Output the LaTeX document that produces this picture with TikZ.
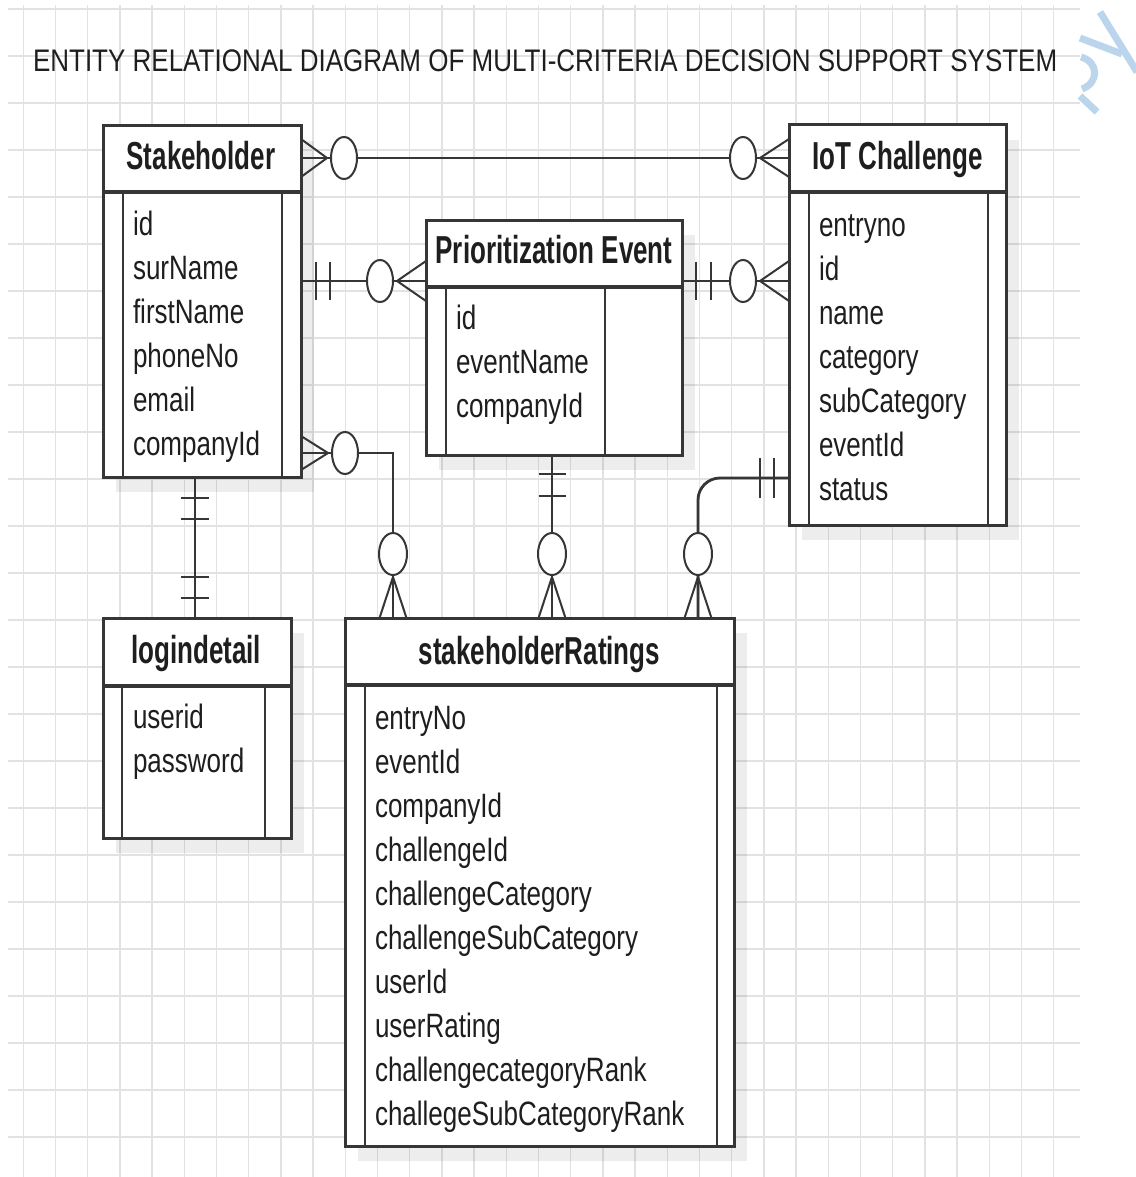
\documentclass[tikz,border=0pt]{standalone}
\usepackage{fontspec}
\setmainfont{Liberation Sans}
\usepackage{graphicx}
\usetikzlibrary{calc}

\definecolor{ink}{HTML}{363636}
\definecolor{txt}{HTML}{1E1E1E}
\definecolor{gridc}{HTML}{E2E2E2}
\definecolor{wmark}{HTML}{BBD5EC}

% attribute list: one column, tall glyphs
\newcommand{\attrs}[1]{\scalebox{1}[1.3]{\fontsize{26}{33.85}\selectfont\begin{tabular}[t]{@{}l@{}}#1\end{tabular}}}
% entity name in the header band
\newcommand{\hdr}[1]{\scalebox{1}[1.5]{\fontsize{26}{30}\selectfont\bfseries #1}}

\tikzset{
  entity/.style={draw=ink, line width=3pt, fill=white, inner sep=0pt, outer sep=0pt,
    preaction={fill=black, fill opacity=0.07, draw=none,
      transform canvas={xshift=13pt, yshift=-15pt}}},
  divider/.style={draw=ink, line width=4pt},
  colline/.style={draw=ink, line width=2pt},
  lbl/.style={inner sep=0pt, outer sep=0pt, text=txt},
  rel/.style={draw=ink, line width=2.8pt},
  foot/.style={draw=ink, line width=2pt},
  tick/.style={draw=ink, line width=2.5pt},
  ring/.style={draw=ink, line width=2pt, fill=white},
  gridline/.style={draw=gridc, line width=1.3pt},
  stroke/.style={draw=wmark, line width=7pt},
}

\begin{document}
\begin{tikzpicture}[x=1pt, y=-1pt]
\useasboundingbox (0,0) rectangle (1135,1177);
\fill[white] (0,0) rectangle (1135,1177);

% background grid
\foreach \k in {0,...,32} \draw[gridline] ({23.3+32.2*\k},5) -- ({23.3+32.2*\k},1177);
\foreach \k in {0,...,24} \draw[gridline] (8,{9+47*\k}) -- (1080,{9+47*\k});

% corner mark
\draw[stroke] (1100,12) -- (1137,72);
\draw[stroke] (1080,38) -- (1122,54);
\draw[stroke] (1081,57) .. controls (1099,62) and (1099,83) .. (1082,89);
\draw[stroke] (1080,96) -- (1097,112);

% title
\node[lbl, anchor=base west] (title) at (33,71.7)
  {\scalebox{1}[1.2]{\fontsize{26}{30}\selectfont ENTITY RELATIONAL DIAGRAM OF MULTI-CRITERIA DECISION SUPPORT SYSTEM}};

% ---------- entities ----------
\node[entity, minimum width=198pt, minimum height=351pt] (sh) at (202,301.5) {};
\node[entity, minimum width=256pt, minimum height=235pt] (pe) at (554,337.5) {};
\node[entity, minimum width=217pt, minimum height=400pt] (iot) at (897.5,325) {};
\node[entity, minimum width=188pt, minimum height=220pt] (login) at (197,728) {};
\node[entity, minimum width=389pt, minimum height=528pt] (sr) at (539.5,882) {};

% header bands and side columns
\draw[divider] ($(sh.north west)+(0,66)$) -- ($(sh.north east)+(0,66)$);
\draw[colline] ($(sh.north west)+(20,66)$) -- ($(sh.south west)+(20,0)$);
\draw[colline] ($(sh.north east)+(-19,66)$) -- ($(sh.south east)+(-19,0)$);

\draw[divider] ($(pe.north west)+(0,67)$) -- ($(pe.north east)+(0,67)$);
\draw[colline] ($(pe.north west)+(20,67)$) -- ($(pe.south west)+(20,0)$);
\draw[colline] ($(pe.north east)+(-77,67)$) -- ($(pe.south east)+(-77,0)$);

\draw[divider] ($(iot.north west)+(0,67)$) -- ($(iot.north east)+(0,67)$);
\draw[colline] ($(iot.north west)+(20,67)$) -- ($(iot.south west)+(20,0)$);
\draw[colline] ($(iot.north east)+(-18,67)$) -- ($(iot.south east)+(-18,0)$);

\draw[divider] ($(login.north west)+(0,68)$) -- ($(login.north east)+(0,68)$);
\draw[colline] ($(login.north west)+(19,68)$) -- ($(login.south west)+(19,0)$);
\draw[colline] ($(login.north east)+(-26,68)$) -- ($(login.south east)+(-26,0)$);

\draw[divider] ($(sr.north west)+(0,67)$) -- ($(sr.north east)+(0,67)$);
\draw[colline] ($(sr.north west)+(20,67)$) -- ($(sr.south west)+(20,0)$);
\draw[colline] ($(sr.north east)+(-17,67)$) -- ($(sr.south east)+(-17,0)$);

% entity names
\node[lbl, anchor=base] (shT) at ($(sh.north)+(-1,44)$) {\hdr{Stakeholder}};
\node[lbl, anchor=base] (peT) at ($(pe.north)+(0,43)$) {\hdr{Prioritization Event}};
\node[lbl, anchor=base] (iotT) at ($(iot.north)+(0,45)$) {\hdr{IoT Challenge}};
\node[lbl, anchor=base] (loginT) at ($(login.north)+(-1,45)$) {\hdr{logindetail}};
\node[lbl, anchor=base] (srT) at ($(sr.north)+(0,46)$) {\hdr{stakeholderRatings}};

% attributes
\node[lbl, anchor=base west] (shA) at (133,235)
  {\attrs{id\\surName\\firstName\\phoneNo\\email\\companyId}};
\node[lbl, anchor=base west] (peA) at (456,329)
  {\attrs{id\\eventName\\companyId}};
\node[lbl, anchor=base west] (iotA) at (819,236)
  {\attrs{entryno\\id\\name\\category\\subCategory\\eventId\\status}};
\node[lbl, anchor=base west] (loginA) at (133,728)
  {\attrs{userid\\password}};
\node[lbl, anchor=base west] (srA) at (375,729)
  {\attrs{entryNo\\eventId\\companyId\\challengeId\\challengeCategory\\challengeSubCategory\\userId\\userRating\\challengecategoryRank\\challegeSubCategoryRank}};

% ---------- relationships ----------
\coordinate (c1a) at ($(sh.north east)+(0,32)$);
\coordinate (c1b) at ($(iot.north west)+(0,33)$);
\coordinate (c2a) at ($(sh.north east)+(0,155)$);
\coordinate (c2b) at ($(pe.north west)+(0,61)$);
\coordinate (c3a) at ($(pe.north east)+(0,61)$);
\coordinate (c3b) at ($(iot.north west)+(0,156)$);
\coordinate (c4a) at ($(sh.south east)+(0,-24)$);
\coordinate (c4b) at ($(sr.north west)+(48,0)$);
\coordinate (c5a) at ($(pe.south)+(-2,0)$);
\coordinate (c5b) at (c5a |- sr.north);
\coordinate (c6a) at ($(iot.south west)+(0,-47)$);
\coordinate (c6b) at ($(sr.north west)+(353,0)$);
\coordinate (c7a) at ($(sh.south)+(-7,0)$);
\coordinate (c7b) at (c7a |- login.north);

% Stakeholder (many, optional) -- IoT Challenge (many, optional)
\draw[rel] (c1a) -- (c1b);
\draw[foot] ($(c1a)+(0,-19)$) -- ($(c1a)+(26,0)$) -- ($(c1a)+(0,19)$);
\draw[ring] ($(c1a)+(43,0)$) ellipse [x radius=13pt, y radius=21pt];
\draw[foot] ($(c1b)+(0,-19)$) -- ($(c1b)+(-29,0)$) -- ($(c1b)+(0,19)$);
\draw[ring] ($(c1b)+(-46,0)$) ellipse [x radius=13pt, y radius=21pt];

% Stakeholder (one) -- Prioritization Event (many, optional)
\draw[rel] (c2a) -- (c2b);
\draw[tick] ($(c2a)+(15,-19)$) -- ($(c2a)+(15,19)$);
\draw[tick] ($(c2a)+(29,-19)$) -- ($(c2a)+(29,19)$);
\draw[foot] ($(c2b)+(0,-20)$) -- ($(c2b)+(-29,0)$) -- ($(c2b)+(0,20)$);
\draw[ring] ($(c2b)+(-46,0)$) ellipse [x radius=13pt, y radius=21pt];

% Prioritization Event (one) -- IoT Challenge (many, optional)
\draw[rel] (c3a) -- (c3b);
\draw[tick] ($(c3a)+(14,-19)$) -- ($(c3a)+(14,19)$);
\draw[tick] ($(c3a)+(29,-19)$) -- ($(c3a)+(29,19)$);
\draw[foot] ($(c3b)+(0,-20)$) -- ($(c3b)+(-29,0)$) -- ($(c3b)+(0,20)$);
\draw[ring] ($(c3b)+(-46,0)$) ellipse [x radius=13pt, y radius=21pt];

% Stakeholder (many, optional) -- stakeholderRatings (many, optional)
\draw[rel] (c4a) -| (c4b);
\draw[foot] ($(c4a)+(0,-17)$) -- ($(c4a)+(27,0)$) -- ($(c4a)+(0,17)$);
\draw[ring] ($(c4a)+(44,0)$) ellipse [x radius=13pt, y radius=21pt];
\draw[foot] ($(c4b)+(-13.5,0)$) -- ($(c4b)+(0,-41)$) -- ($(c4b)+(13.5,0)$);
\draw[ring] ($(c4b)+(0,-64)$) ellipse [x radius=14pt, y radius=21pt];

% Prioritization Event (one) -- stakeholderRatings (many, optional)
\draw[rel] (c5a) -- (c5b);
\draw[tick] ($(c5a)+(-13.5,19)$) -- ($(c5a)+(13.5,19)$);
\draw[tick] ($(c5a)+(-13.5,41)$) -- ($(c5a)+(13.5,41)$);
\draw[foot] ($(c5b)+(-13.5,0)$) -- ($(c5b)+(0,-41)$) -- ($(c5b)+(13.5,0)$);
\draw[ring] ($(c5b)+(0,-64)$) ellipse [x radius=14pt, y radius=21pt];

% IoT Challenge (one) -- stakeholderRatings (many, optional)
\draw[rel, rounded corners=22pt] (c6a) -| (c6b);
\draw[tick] ($(c6a)+(-29,-20)$) -- ($(c6a)+(-29,20)$);
\draw[tick] ($(c6a)+(-15,-20)$) -- ($(c6a)+(-15,20)$);
\draw[foot] ($(c6b)+(-13.5,0)$) -- ($(c6b)+(0,-41)$) -- ($(c6b)+(13.5,0)$);
\draw[ring] ($(c6b)+(0,-64)$) ellipse [x radius=14pt, y radius=21pt];

% Stakeholder (one) -- logindetail (one)
\draw[rel] (c7a) -- (c7b);
\draw[tick] ($(c7a)+(-14,21)$) -- ($(c7a)+(14,21)$);
\draw[tick] ($(c7a)+(-14,42)$) -- ($(c7a)+(14,42)$);
\draw[tick] ($(c7b)+(-14,-41)$) -- ($(c7b)+(14,-41)$);
\draw[tick] ($(c7b)+(-14,-20)$) -- ($(c7b)+(14,-20)$);

\end{tikzpicture}
\end{document}
